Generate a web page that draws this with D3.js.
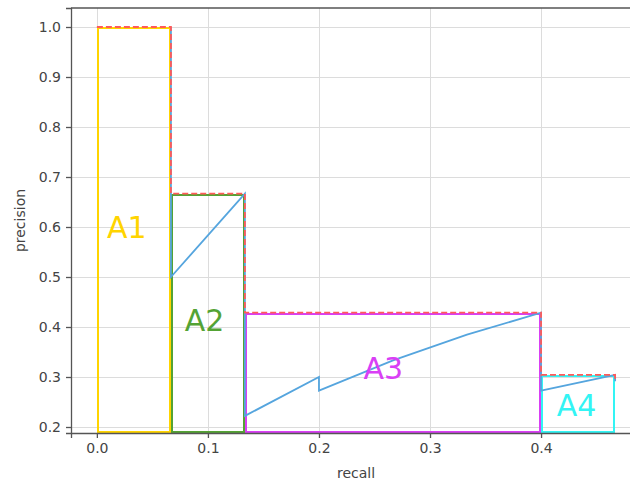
<!DOCTYPE html>
<html>
<head>
<meta charset="utf-8">
<script src="https://cdn.jsdelivr.net/npm/d3@7"></script>
<style>
  html, body { margin: 0; padding: 0; background: #fff; }
  svg { display: block; font-family: 'DejaVu Sans', sans-serif; }
</style>
</head>
<body>
<div id="chart"></div>
<script>
'use strict';

// Raw precision / recall curve (blue line)
const recallPts = [0.0667, 0.0667, 0.1333, 0.1333, 0.2, 0.2, 0.2667, 0.3333, 0.4, 0.4, 0.4667, 0.4667];
const precisionPts = [1.0, 0.5, 0.6667, 0.2222, 0.3, 0.2727, 0.3333, 0.3846, 0.4286, 0.2727, 0.3043, 0.2917];

// Interpolated precision envelope (red dashed step)
const envRecall = [0.0, 0.0667, 0.0667, 0.1333, 0.1333, 0.4, 0.4, 0.4667, 0.4667];
const envPrecision = [1.0, 1.0, 0.6667, 0.6667, 0.4286, 0.4286, 0.3043, 0.3043, 0.2917];

// Area rectangles A1..A4
const areaNames = ['A1', 'A2', 'A3', 'A4'];
const areaRecall0 = [0.0, 0.0667, 0.1333, 0.4];
const areaRecall1 = [0.0667, 0.1333, 0.4, 0.4667];
const areaPrecision = [1.0, 0.6667, 0.4286, 0.3043];
const areaColors = ['#ffd400', '#54a334', '#d93ff5', '#33f4f4'];
const labelX = [0.027, 0.097, 0.258, 0.432];
const labelY = [0.6, 0.413, 0.318, 0.243];

const xTicks = [0.0, 0.1, 0.2, 0.3, 0.4];
const yTicks = [0.2, 0.3, 0.4, 0.5, 0.6, 0.7, 0.8, 0.9, 1.0];

const W = 630, H = 484;
const margin = { left: 71, right: -11, top: 8, bottom: 51 };
const iw = W - margin.left - margin.right;
const ih = H - margin.top - margin.bottom;

const x = d3.scaleLinear().domain([-0.0233, 0.49]).range([0, iw]);
const y = d3.scaleLinear().domain([0.188, 1.038]).range([ih, 0]);

const svg = d3.select('#chart').append('svg')
    .attr('width', W)
    .attr('height', H);

const g = svg.append('g')
    .attr('transform', `translate(${margin.left},${margin.top})`);

// Grid
g.append('g').selectAll('line')
    .data(xTicks)
    .join('line')
    .attr('x1', d => Math.round(x(d)) + 0.5).attr('x2', d => Math.round(x(d)) + 0.5)
    .attr('y1', 0).attr('y2', ih)
    .attr('stroke', '#dcdcdc').attr('stroke-width', 1);
g.append('g').selectAll('line')
    .data(yTicks)
    .join('line')
    .attr('y1', d => Math.round(y(d)) + 0.5).attr('y2', d => Math.round(y(d)) + 0.5)
    .attr('x1', 0).attr('x2', iw)
    .attr('stroke', '#dcdcdc').attr('stroke-width', 1);

// Area rectangles (inset by stroke so the envelope shows on top)
g.append('clipPath').attr('id', 'plotClip')
    .append('rect').attr('width', iw).attr('height', ih);
const plot = g.append('g').attr('clip-path', 'url(#plotClip)');

plot.selectAll('rect.area')
    .data(areaNames)
    .join('rect')
    .attr('class', 'area')
    .attr('x', (d, i) => Math.round(x(areaRecall0[i])) + 1)
    .attr('y', (d, i) => Math.round(y(areaPrecision[i])) + 1)
    .attr('width', (d, i) => Math.round(x(areaRecall1[i])) - Math.round(x(areaRecall0[i])) - 2)
    .attr('height', (d, i) => Math.round(ih) - Math.round(y(areaPrecision[i])) - 2)
    .attr('fill', 'none')
    .attr('stroke', (d, i) => areaColors[i])
    .attr('stroke-width', 2);

// Blue precision curve
const curve = d3.line()
    .x(d => x(d[0]))
    .y(d => y(d[1]));
plot.append('path')
    .datum(recallPts.map((r, i) => [r, precisionPts[i]]))
    .attr('d', curve)
    .attr('fill', 'none')
    .attr('stroke', '#55a5de')
    .attr('stroke-width', 1.8);

// Red dashed envelope
plot.append('path')
    .datum(envRecall.map((r, i) => [r, envPrecision[i]]))
    .attr('d', curve)
    .attr('fill', 'none')
    .attr('stroke', '#ff5a5a')
    .attr('stroke-width', 1.8)
    .attr('stroke-dasharray', '6,3');

// Area labels
plot.selectAll('text.area-label')
    .data(areaNames)
    .join('text')
    .attr('class', 'area-label')
    .attr('x', (d, i) => x(labelX[i]))
    .attr('y', (d, i) => y(labelY[i]))
    .attr('text-anchor', 'middle')
    .attr('dominant-baseline', 'central')
    .attr('font-size', 30)
    .attr('fill', (d, i) => areaColors[i])
    .text(d => d);

// Axes
const xAxis = g.append('g')
    .attr('transform', `translate(0,${ih})`)
    .call(d3.axisBottom(x).tickValues(xTicks).tickFormat(d3.format('.1f')).tickSize(5).tickPadding(5));
const yAxis = g.append('g')
    .call(d3.axisLeft(y).tickValues(yTicks).tickFormat(d3.format('.1f')).tickSize(5).tickPadding(5));

[xAxis, yAxis].forEach(a => {
    a.select('.domain').attr('stroke', '#555').attr('stroke-width', 1.3);
    a.selectAll('.tick line').attr('stroke', '#555').attr('stroke-width', 1.3);
    a.selectAll('.tick text')
        .attr('fill', '#444')
        .attr('font-size', 14)
        .attr('font-family', "'DejaVu Sans', sans-serif");
});

// Top spine
g.append('line')
    .attr('x1', 0).attr('x2', iw)
    .attr('y1', 0).attr('y2', 0)
    .attr('stroke', '#555').attr('stroke-width', 1.3);

// Axis titles
svg.append('text')
    .attr('x', margin.left + iw / 2)
    .attr('y', 478)
    .attr('text-anchor', 'middle')
    .attr('font-size', 14)
    .attr('fill', '#444')
    .text('recall');
svg.append('text')
    .attr('transform', `translate(25,${margin.top + ih / 2}) rotate(-90)`)
    .attr('text-anchor', 'middle')
    .attr('font-size', 14)
    .attr('fill', '#444')
    .text('precision');
</script>
</body>
</html>
